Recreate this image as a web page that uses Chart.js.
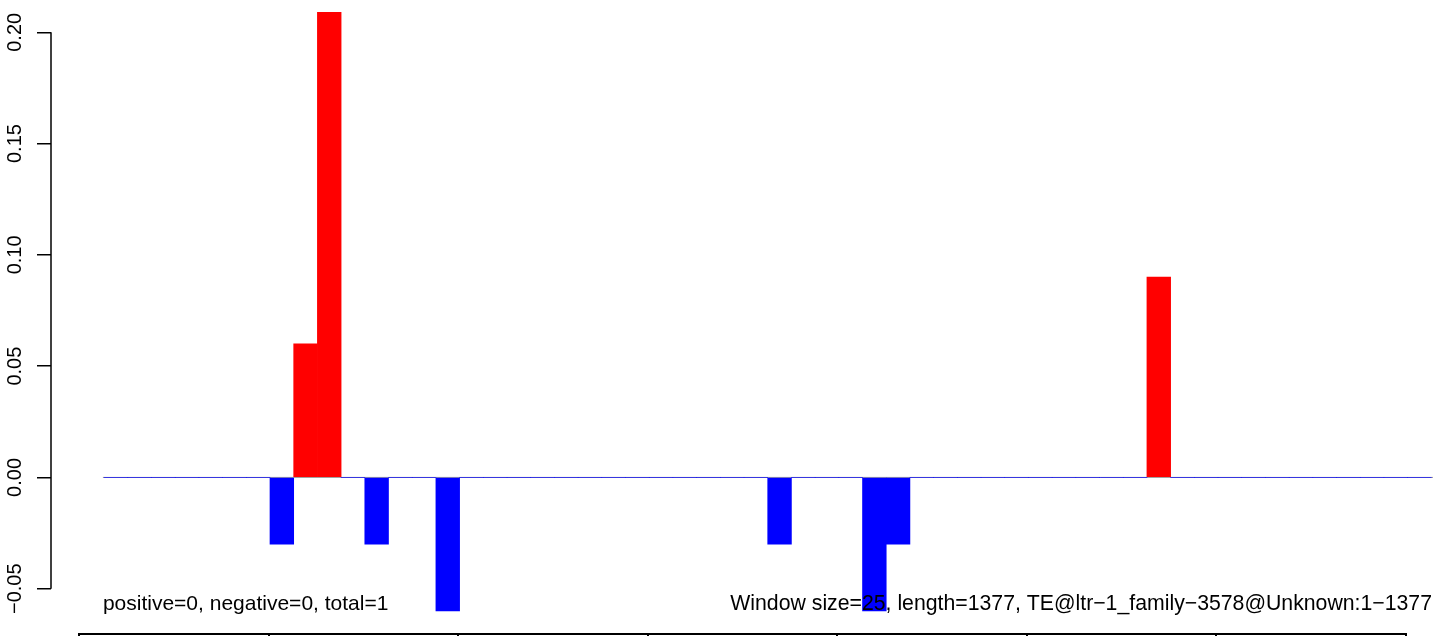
<!DOCTYPE html>
<html>
<head>
<meta charset="utf-8">
<script src="https://cdn.jsdelivr.net/npm/chart.js@4"></script>
<style>
  html, body { margin: 0; padding: 0; background: #fff; overflow: hidden; }
  #wrap { position: relative; width: 1433px; height: 636px; }
  #strip { position: absolute; left: 78px; top: 633px; width: 1329px; height: 20px; display: flex; }
  #strip div { flex: 1; border-top: 2px solid #000; border-left: 2px solid #000; }
  #strip div:last-child { border-right: 2px solid #000; }
</style>
</head>
<body>
<div id="wrap">
  <canvas id="chart" width="1433" height="636"></canvas>
  <div id="strip"><div></div><div></div><div></div><div></div><div></div><div></div><div></div></div>
</div>
<script>
// score per 25bp window (56 windows over 1377bp)
const scores = [
  0, 0, 0, 0, 0, 0, 0, -0.03, 0.06, 0.209,
  0, -0.03, 0, 0, -0.06, 0, 0, 0, 0, 0,
  0, 0, 0, 0, 0, 0, 0, 0, -0.03, 0,
  0, 0, -0.06, -0.03, 0, 0, 0, 0, 0, 0,
  0, 0, 0, 0, 0.09, 0, 0, 0, 0, 0,
  0, 0, 0, 0, 0, 0
];
const windowIndex = scores.map((v, i) => i);
const yTicks = [-0.05, 0, 0.05, 0.10, 0.15, 0.20];
const leftNote = 'positive=0, negative=0, total=1';
const rightNote = 'Window size=25, length=1377, TE@ltr\u22121_family\u22123578@Unknown:1\u22121377';

const xMin = -2.74, xMax = 55.57;

function fmtTick(v) {
  return v.toFixed(2).replace('-', '\u2212');
}

const extras = {
  id: 'extras',
  afterDraw(chart) {
    const ctx = chart.ctx;
    const y = chart.scales.y;
    const x = chart.scales.x;
    const left = chart.chartArea.left;
    ctx.save();
    // axis line only between first and last tick, like R
    ctx.strokeStyle = '#000';
    ctx.lineWidth = 1.5;
    ctx.beginPath();
    ctx.moveTo(left, y.getPixelForValue(yTicks[yTicks.length - 1]));
    ctx.lineTo(left, y.getPixelForValue(yTicks[0]));
    ctx.stroke();

    ctx.fillStyle = '#000';
    ctx.font = '20px "Liberation Sans", Arial, sans-serif';
    ctx.textAlign = 'center';
    ctx.textBaseline = 'alphabetic';
    y.ticks.forEach(t => {
      ctx.save();
      ctx.translate(21, y.getPixelForValue(t.value));
      ctx.rotate(-Math.PI / 2);
      ctx.fillText(fmtTick(t.value), 0, 0);
      ctx.restore();
    });

    ctx.font = '21px "Liberation Sans", Arial, sans-serif';
    ctx.textAlign = 'left';
    ctx.fillText(leftNote, x.getPixelForValue(-0.55), 610);
    ctx.font = '21.25px "Liberation Sans", Arial, sans-serif';
    ctx.textAlign = 'right';
    ctx.fillText(rightNote, chart.chartArea.right - 1, 610);
    ctx.restore();
  }
};

new Chart(document.getElementById('chart').getContext('2d'), {
  type: 'bar',
  data: {
    datasets: [
      {
        type: 'bar',
        data: windowIndex.map(i => ({ x: i, y: scores[i] })),
        backgroundColor: scores.map(v => v > 0 ? '#ff0000' : '#0000ff'),
        borderWidth: 0,
        barPercentage: 1,
        categoryPercentage: 1,
        order: 1
      },
      {
        type: 'line',
        data: [{ x: -0.55, y: 0 }, { x: xMax, y: 0 }],
        borderColor: '#999999',
        borderWidth: 1,
        pointRadius: 0,
        order: 2
      }
    ]
  },
  options: {
    responsive: false,
    animation: false,
    layout: { padding: 0 },
    plugins: { legend: { display: false }, tooltip: { enabled: false } },
    scales: {
      x: {
        type: 'linear',
        min: xMin,
        max: xMax,
        offset: false,
        display: false,
        afterBuildTicks: s => { s.ticks = windowIndex.map(v => ({ value: v })); }
      },
      y: {
        min: -0.07125,
        max: 0.21451,
        afterBuildTicks: s => { s.ticks = yTicks.map(v => ({ value: v })); },
        afterFit: s => { s.width = 51; },
        border: { display: false },
        grid: {
          drawOnChartArea: false,
          drawTicks: true,
          tickLength: 14,
          color: '#000',
          lineWidth: 1.5
        },
        ticks: { display: false }
      }
    }
  },
  plugins: [extras]
});
</script>
</body>
</html>
